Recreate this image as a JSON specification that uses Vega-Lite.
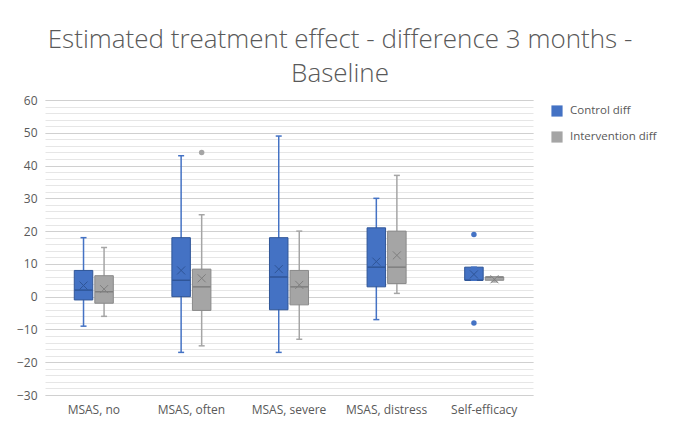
{
  "$schema": "https://vega.github.io/schema/vega-lite/v6.json",
  "width": 488,
  "height": 295,
  "autosize": "none",
  "padding": {"left": 45, "top": 100, "right": 140, "bottom": 30},
  "background": "white",
  "config": {
    "font": "Open Sans",
    "view": {"stroke": null},
    "axis": {"labelColor": "#595959", "labelFontSize": 12, "titleColor": "#595959"},
    "legend": {"labelColor": "#595959", "labelFontSize": 11.5}
  },
  "title": {
    "text": ["Estimated treatment effect - difference 3 months -", "Baseline"],
    "font": "Open Sans",
    "fontSize": 26,
    "fontWeight": 300,
    "color": "#595959",
    "anchor": "middle",
    "frame": "group",
    "dx": 51,
    "offset": 7,
    "lineHeight": 34
  },
  "datasets": {
    "boxes": [
      {"cat": "MSAS, no", "series": "Control diff", "lower": -9, "q1": -1, "median": 2, "q3": 8, "upper": 18, "mean": 3.4},
      {"cat": "MSAS, no", "series": "Intervention diff", "lower": -6, "q1": -2, "median": 1.5, "q3": 6.4, "upper": 15, "mean": 2.3},
      {"cat": "MSAS, often", "series": "Control diff", "lower": -17, "q1": 0, "median": 5, "q3": 18, "upper": 43, "mean": 8},
      {"cat": "MSAS, often", "series": "Intervention diff", "lower": -15, "q1": -4.2, "median": 3, "q3": 8.4, "upper": 25, "mean": 5.6},
      {"cat": "MSAS, severe", "series": "Control diff", "lower": -17, "q1": -4, "median": 6, "q3": 18, "upper": 49, "mean": 8.4},
      {"cat": "MSAS, severe", "series": "Intervention diff", "lower": -13, "q1": -2.5, "median": 3, "q3": 8, "upper": 20, "mean": 3.6},
      {"cat": "MSAS, distress", "series": "Control diff", "lower": -7, "q1": 3, "median": 9, "q3": 21, "upper": 30, "mean": 10.7},
      {"cat": "MSAS, distress", "series": "Intervention diff", "lower": 1, "q1": 4, "median": 9, "q3": 20, "upper": 37, "mean": 12.6},
      {"cat": "Self-efficacy", "series": "Control diff", "lower": 5, "q1": 5, "median": 5, "q3": 9, "upper": 9, "mean": 6.8},
      {"cat": "Self-efficacy", "series": "Intervention diff", "lower": 4.5, "q1": 5, "median": 6, "q3": 6, "upper": 6, "mean": 5.3}
    ],
    "outliers": [
      {"cat": "MSAS, often", "series": "Intervention diff", "value": 44},
      {"cat": "Self-efficacy", "series": "Control diff", "value": 19},
      {"cat": "Self-efficacy", "series": "Control diff", "value": -8}
    ]
  },
  "data": {"name": "boxes"},
  "encoding": {
    "x": {
      "field": "cat", "type": "nominal",
      "sort": ["MSAS, no", "MSAS, often", "MSAS, severe", "MSAS, distress", "Self-efficacy"],
      "scale": {"paddingInner": 0.6, "paddingOuter": 0.3},
      "axis": {"title": null, "ticks": false, "domain": false, "grid": false, "labelAngle": 0, "labelPadding": 9}
    },
    "xOffset": {
      "field": "series", "type": "nominal",
      "scale": {"domain": ["Control diff", "Intervention diff"], "paddingInner": 0.1, "paddingOuter": 0}
    }
  },
  "layer": [
    {
      "mark": {"type": "rule", "strokeWidth": 1.5},
      "encoding": {
        "y": {
          "field": "lower", "type": "quantitative",
          "scale": {"domain": [-30, 60], "nice": false, "zero": false},
          "axis": {
            "orient": "left", "title": null, "labels": false, "ticks": false, "domain": false,
            "grid": true, "gridColor": "#e6e6e6", "gridWidth": 1,
            "values": [-30,-28,-26,-24,-22,-20,-18,-16,-14,-12,-10,-8,-6,-4,-2,0,2,4,6,8,10,12,14,16,18,20,22,24,26,28,30,32,34,36,38,40,42,44,46,48,50,52,54,56,58,60]
          }
        },
        "y2": {"field": "upper"},
        "color": {
          "field": "series", "type": "nominal",
          "scale": {"domain": ["Control diff", "Intervention diff"], "range": ["#4472C4", "#A5A5A5"]},
          "legend": {"title": null, "orient": "none", "legendX": 506, "legendY": 5, "symbolType": "square", "symbolSize": 125, "rowPadding": 14, "symbolStrokeWidth": 0, "symbolOpacity": 1, "labelOffset": 7}
        }
      }
    },
    {
      "mark": {"type": "bar", "strokeWidth": 1},
      "encoding": {
        "y": {
          "field": "q1", "type": "quantitative",
          "axis": {
            "orient": "left", "title": null, "ticks": false, "domain": false,
            "grid": true, "gridColor": "#d0d0d0", "gridWidth": 1, "labelPadding": 8,
            "values": [-30,-20,-10,0,10,20,30,40,50,60]
          }
        },
        "y2": {"field": "q3"},
        "color": {"field": "series", "type": "nominal"},
        "stroke": {"condition": {"test": "datum.series === 'Control diff'", "value": "#2F5597"}, "value": "#8a8a8a"},
        "opacity": {"value": 1}
      }
    },
    {
      "mark": {"type": "tick", "orient": "horizontal", "size": 18, "thickness": 1.5},
      "encoding": {
        "y": {"field": "median", "type": "quantitative", "axis": null},
        "color": {"condition": {"test": "datum.series === 'Control diff'", "value": "#2F5597"}, "value": "#7f7f7f"},
        "opacity": {"value": 1}
      }
    },
    {
      "mark": {"type": "tick", "orient": "horizontal", "size": 6, "thickness": 1.5},
      "encoding": {
        "y": {"field": "lower", "type": "quantitative", "axis": null},
        "color": {"field": "series", "type": "nominal"},
        "opacity": {"value": 1}
      }
    },
    {
      "mark": {"type": "tick", "orient": "horizontal", "size": 6, "thickness": 1.5},
      "encoding": {
        "y": {"field": "upper", "type": "quantitative", "axis": null},
        "color": {"field": "series", "type": "nominal"},
        "opacity": {"value": 1}
      }
    },
    {
      "mark": {"type": "point", "shape": "M-1,-1L1,1M-1,1L1,-1", "size": 64, "strokeWidth": 1, "filled": false},
      "encoding": {
        "y": {"field": "mean", "type": "quantitative", "axis": null},
        "stroke": {"condition": {"test": "datum.series === 'Control diff'", "value": "#2F5597"}, "value": "#7f7f7f"},
        "opacity": {"value": 1}
      }
    },
    {
      "data": {"name": "outliers"},
      "mark": {"type": "point", "filled": true, "size": 30},
      "encoding": {
        "y": {"field": "value", "type": "quantitative", "axis": null},
        "color": {"field": "series", "type": "nominal"},
        "opacity": {"value": 1}
      }
    }
  ],
  "resolve": {"axis": {"y": "independent"}}
}
